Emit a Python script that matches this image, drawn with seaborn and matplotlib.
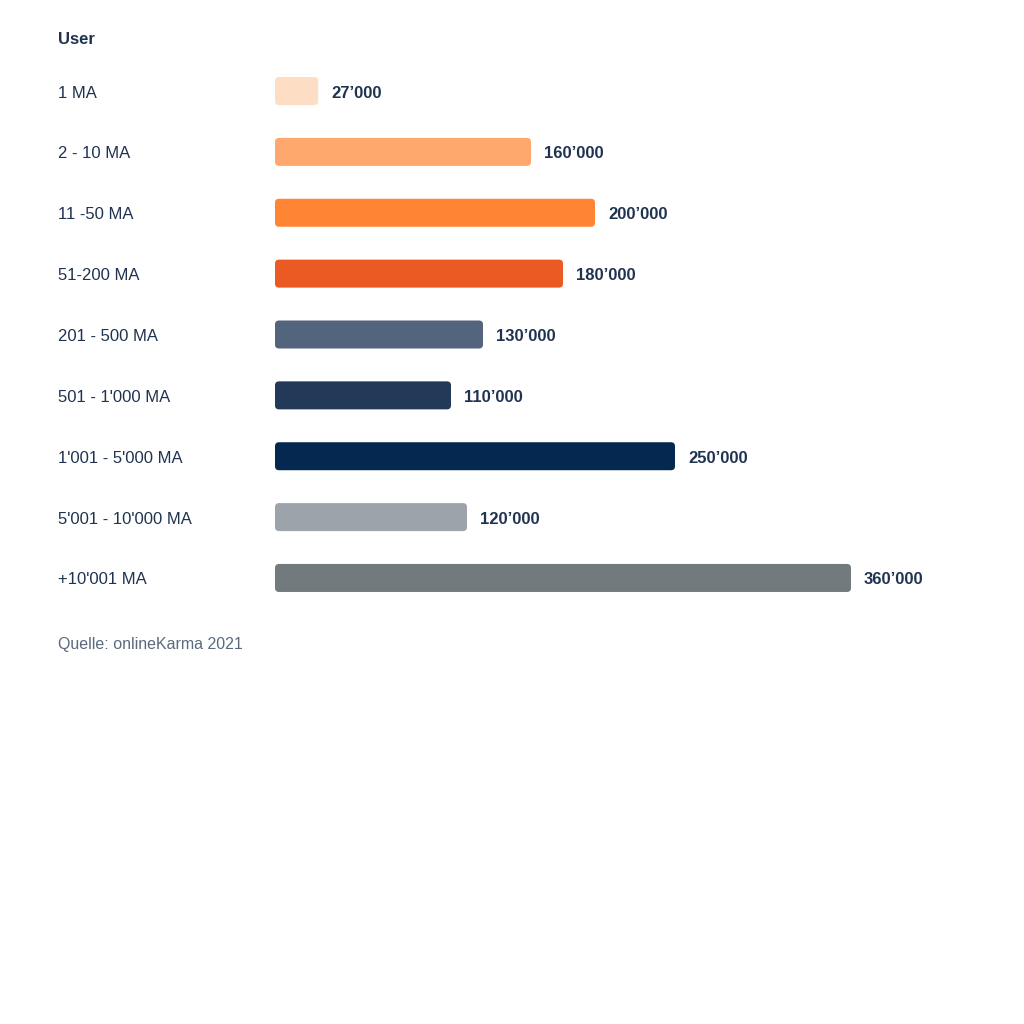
import matplotlib
matplotlib.use("Agg")
import pandas as pd
import seaborn as sns
from matplotlib import pyplot as plt
from matplotlib.patches import FancyBboxPatch

# data
groups = ['1 MA', '2 - 10 MA', '11 -50 MA', '51-200 MA', '201 - 500 MA',
          "501 - 1'000 MA", "1'001 - 5'000 MA", "5'001 - 10'000 MA",
          "+10'001 MA"]
users = [27000, 160000, 200000, 180000, 130000, 110000, 250000, 120000,
         360000]
value_labels = ['27’000', '160’000', '200’000', '180’000', '130’000',
                '110’000', '250’000', '120’000', '360’000']
colors = ['#FEDDC5', '#FFA86D', '#FF8535', '#EA5A23', '#53657D',
          '#223958', '#04284F', '#9CA3AA', '#737A7D']

TEXT = '#1F3350'

sns.set_theme(style='white')
plt.rcParams['font.family'] = ['Liberation Sans', 'DejaVu Sans']

df = pd.DataFrame({'group': groups, 'users': users})

fig = plt.figure(figsize=(10.24, 10.24), dpi=100)
# axes from x=275px to x=851px (0..360000), rows centred 91..578px
ax = fig.add_axes([275 / 1024, 1 - 608.4 / 1024, 576 / 1024, 547.8 / 1024])

sns.barplot(data=df, x='users', y='group', hue='group', palette=colors,
            saturation=1, legend=False, width=0.46, ax=ax, orient='h')

ax.set_xlim(0, 360000)
ax.set_ylim(8.5, -0.5)

# swap square bars for rounded ones
x_per_px = 360000 / 576
y_per_px = 9 / 547.8
for p in list(ax.patches):
    x0, y0 = p.get_x(), p.get_y()
    w, h = p.get_width(), p.get_height()
    fc = p.get_facecolor()
    p.remove()
    ax.add_patch(FancyBboxPatch(
        (x0, y0), w, h,
        boxstyle=f'round,pad=0,rounding_size={4 * x_per_px}',
        mutation_aspect=y_per_px / x_per_px,
        facecolor=fc, edgecolor='none'))

# value labels
for i, (v, lab) in enumerate(zip(users, value_labels)):
    ax.annotate(lab, (v, i), xytext=(13, -2), textcoords='offset pixels',
                ha='left', va='center', fontsize=12, fontweight='bold',
                color=TEXT, annotation_clip=False)

# category labels on the left
for i, g in enumerate(groups):
    ax.annotate(g, (0, i), xycoords=('figure pixels', 'data'),
                xytext=(58, -2), textcoords='offset pixels',
                ha='left', va='center', fontsize=12, color=TEXT,
                annotation_clip=False)

ax.set_xlabel('')
ax.set_ylabel('')
ax.set_xticks([])
ax.set_yticks([])
sns.despine(ax=ax, left=True, bottom=True)

fig.text(58 / 1024, 1 - 39 / 1024, 'User', ha='left', va='center',
         fontsize=12, fontweight='bold', color=TEXT)
fig.text(58 / 1024, 1 - 644 / 1024, 'Quelle: onlineKarma 2021',
         ha='left', va='center', fontsize=11.5, color='#5B6A7E')

fig.savefig('out.png', dpi=100, facecolor='white')
